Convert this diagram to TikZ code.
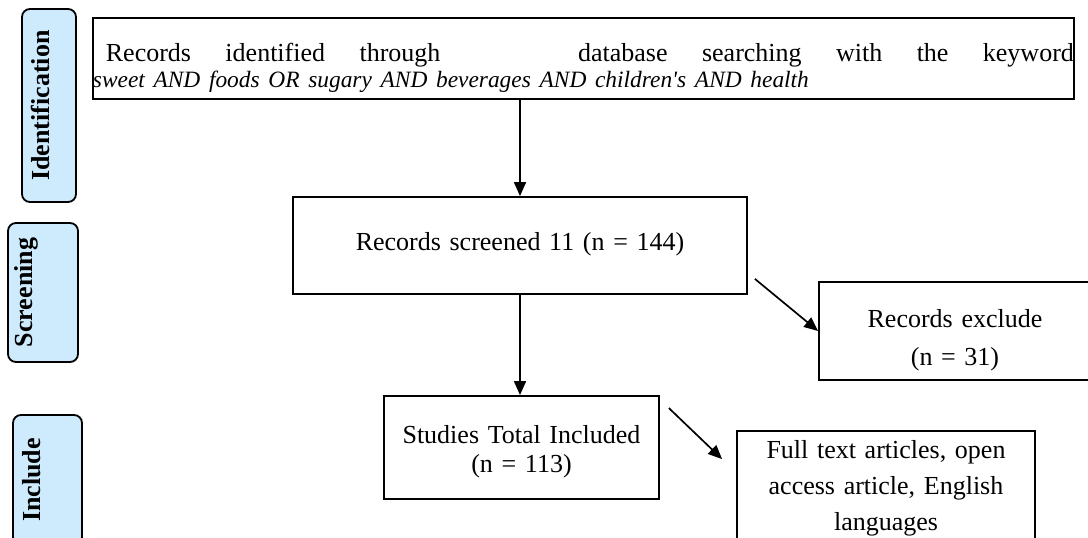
\documentclass[tikz,border=0pt]{standalone}
\usepackage{fontspec}
\setmainfont{Liberation Serif}
\usetikzlibrary{arrows.meta,calc}
\definecolor{lblue}{RGB}{206,234,253}
\begin{document}
\begin{tikzpicture}[x=1pt,y=-1pt,
  box/.style={draw=black, line width=1.8pt, inner sep=0pt, align=center,
    font=\fontsize{26pt}{37pt}\selectfont},
  side/.style={draw=black, line width=1.8pt, fill=lblue, rounded corners=8pt,
    inner sep=0pt, rotate=90, anchor=base, align=center,
    font=\fontsize{26pt}{30pt}\selectfont\bfseries},
  arr/.style={line width=1.7pt, -{Triangle[length=14pt,width=12pt]}}
]
\useasboundingbox (0,0) rectangle (1088,538);
\fill[white] (0,0) rectangle (1088,538);
\clip (0,0) rectangle (1088,538);

% phase labels
\node[side, text width=193pt, text height=27pt, text depth=27pt] (ident) at (49,105.5) {Identification};
\node[side, text width=139pt, text height=24pt, text depth=46pt] (scrlab) at (32,292.5) {Screening};
\node[side, text width=130pt, text height=27pt, text depth=42pt] (inclab) at (40,480) {Include};

% boxes
\node[box, text width=981pt, text height=43pt, text depth=38pt, anchor=base west, align=left,
  font=\fontsize{26pt}{26pt}\selectfont] (top) at (92,61)
  {\makebox[981pt][s]{\hspace*{13pt}Records\hfill identified\hfill through\hfill\hfill\hfill\hfill database\hfill searching\hfill with\hfill the\hfill keyword}\\
   {\fontsize{23.4pt}{26pt}\selectfont\itshape sweet AND foods OR sugary AND beverages AND children\textquotesingle s AND health}};

\node[box, text width=454pt, text height=53pt, text depth=44pt, anchor=base] (scr) at (520,250)
  {Records screened 11 (n = 144)};

\node[box, text width=272pt, text height=45pt, text depth=53pt, anchor=base,
  font=\fontsize{26pt}{38pt}\selectfont] (exc) at (955,327)
  {Records exclude\\(n = 31)};

\node[box, text width=275pt, text height=47pt, text depth=56pt, anchor=base,
  font=\fontsize{26pt}{29pt}\selectfont] (inc) at (521.5,443)
  {Studies Total Included\\(n = 113)};

\node[box, text width=298pt, text height=27pt, text depth=100pt, anchor=base,
  font=\fontsize{26pt}{36pt}\selectfont] (full) at (886,458)
  {Full text articles, open\\access article, English\\languages};

% connectors
\draw[arr] (scr.north |- top.south) -- (scr.north);
\draw[arr] (scr.south) -- (scr.south |- inc.north);
\coordinate (d1) at ($(scr.south east)+(7,-16)$);
\draw[arr] (d1) -- (exc.west);
\coordinate (d2) at ($(inc.north east)+(9,13)$);
\coordinate (d2e) at ($(full.north west)+(-14,29)$);
\draw[arr] (d2) -- (d2e);
\end{tikzpicture}
\end{document}
